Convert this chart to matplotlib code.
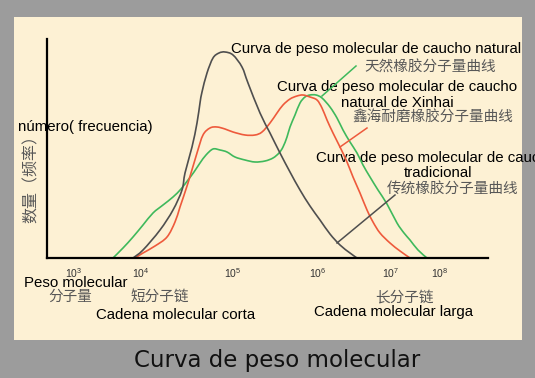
import matplotlib
matplotlib.use('Agg')
import numpy as np
import matplotlib.pyplot as plt
from matplotlib.patches import Rectangle, PathPatch
from matplotlib.path import Path

plt.rcParams['font.family'] = ['Liberation Sans', 'DejaVu Sans']
plt.rcParams['mathtext.fontset'] = 'custom'
plt.rcParams['mathtext.rm'] = 'Liberation Serif'

# curves, x = position along the axis, y = number (frequency)
natural_x = [66, 76, 86, 96, 106, 116, 126, 134, 141, 147, 153, 159, 166, 173, 180, 188, 198, 208,
             218, 226, 232, 236, 240, 243, 248, 253, 258, 263, 269, 275, 283, 290, 296, 303, 310,
             316, 323, 331, 340, 350, 357, 363, 371, 380]
natural_y = [0, 10, 21, 33, 45, 53, 61, 69, 78, 86, 95, 103, 109, 108, 106, 101, 98, 96,
             97, 100, 105, 111, 121, 131, 143, 155, 161, 163, 163, 160, 151, 140, 128, 116, 105,
             93, 81, 68, 54, 35, 25, 18, 8, 0]

xinhai_x = [88, 96, 108, 120, 128, 133, 141, 150, 156, 163, 170, 178, 186, 198, 208, 215, 223,
            230, 236, 243, 250, 256, 263, 270, 275, 280, 286, 293, 300, 306, 313, 320, 326, 333,
            343, 353, 363]
xinhai_y = [0, 5, 12, 21, 36, 51, 75, 105, 123, 130, 131, 129, 126, 123, 123, 126, 135,
            145, 153, 159, 162, 163, 161, 158, 150, 138, 125, 111, 96, 81, 65, 48, 36, 25,
            15, 7, 0]

trad_x = [86, 96, 113, 126, 135, 138, 145, 150, 153, 155, 160, 166, 172, 178, 186, 195, 201,
          213, 223, 233, 243, 253, 263, 273, 283, 293, 303, 310]
trad_y = [0, 8, 28, 48, 68, 85, 111, 135, 155, 166, 185, 200, 205, 206, 203, 191, 175,
          145, 125, 105, 86, 68, 52, 38, 24, 13, 5, 0]

tick_pos = [27, 94, 186, 271, 344, 393]
tick_labels = [r'$\mathregular{10^{3}}$', r'$\mathregular{10^{4}}$', r'$\mathregular{10^{5}}$',
               r'$\mathregular{10^{6}}$', r'$\mathregular{10^{7}}$', r'$\mathregular{10^{8}}$']

# leader lines (from curve to label)
lead_natural = ([275, 309], [162, 192])
lead_xinhai = ([293, 320], [111, 130])
lead_trad = ([290, 348], [15, 63])

c_trad = '#4f4f4f'
c_xinhai = '#ee5a3c'
c_natural = '#3fb95c'
c_cjk = '#575757'
cjk = ['Noto Sans CJK SC', 'DejaVu Sans']


def smooth_path(xs, ys):
    # catmull-rom through the read points, drawn as bezier segments
    p = np.column_stack([xs, ys]).astype(float)
    q = np.vstack([p[0], p, p[-1]])
    verts = [p[0]]
    codes = [Path.MOVETO]
    for i in range(1, len(q) - 2):
        c1 = q[i] + (q[i + 1] - q[i - 1]) / 6
        c2 = q[i + 1] - (q[i + 2] - q[i]) / 6
        verts += [c1, c2, q[i + 1]]
        codes += [Path.CURVE4] * 3
    return Path(verts, codes)


fig = plt.figure(figsize=(5.35, 3.78), dpi=100)
fig.patch.set_facecolor('#9c9c9c')

bg = fig.add_axes([0, 0, 1, 1])
bg.set_xlim(0, 535)
bg.set_ylim(378, 0)
bg.axis('off')
bg.add_patch(Rectangle((14, 17), 508, 323, fc='#fdf1d4', ec='none'))

ax = fig.add_axes([47 / 535, 120 / 378, 441 / 535, 219 / 378])
ax.set_xlim(0, 441)
ax.set_ylim(0, 219)
ax.patch.set_alpha(0)
for s in ['top', 'right']:
    ax.spines[s].set_visible(False)
for s in ['left', 'bottom']:
    ax.spines[s].set_linewidth(1.6)
    ax.spines[s].set_color('black')
ax.set_yticks([])
ax.set_xticks(tick_pos)
ax.set_xticklabels(tick_labels, fontsize=7.5, color='#333333')
ax.tick_params(axis='x', length=0, pad=6)

for xs, ys, col in [(natural_x, natural_y, c_natural),
                    (xinhai_x, xinhai_y, c_xinhai),
                    (trad_x, trad_y, c_trad)]:
    ax.add_patch(PathPatch(smooth_path(xs, ys), fc='none', ec=col, lw=1.2, clip_on=False))
ax.plot(*lead_natural, color=c_natural, lw=1.1)
ax.plot(*lead_xinhai, color=c_xinhai, lw=1.1)
ax.plot(*lead_trad, color=c_trad, lw=1.1)

fs = 10.8
bg.text(521, 53, 'Curva de peso molecular de caucho natural', fontsize=fs, ha='right', va='baseline')
bg.text(364, 68, '天然橡胶分子量曲线', fontsize=10.5, family=cjk, color=c_cjk, va='center')
bg.text(397, 91, 'Curva de peso molecular de caucho', fontsize=fs, ha='center', va='baseline')
bg.text(397, 107, 'natural de Xinhai', fontsize=fs, ha='center', va='baseline')
bg.text(352, 118, '鑫海耐磨橡胶分子量曲线', fontsize=10.5, family=cjk, color=c_cjk, va='center')
bg.text(316, 162, 'Curva de peso molecular de caucho', fontsize=fs, va='baseline')
bg.text(438, 177, 'tradicional', fontsize=fs, ha='center', va='baseline')
bg.text(387, 190, '传统橡胶分子量曲线', fontsize=10.5, family=cjk, color=c_cjk, va='center')

bg.text(18, 131, 'número( frecuencia)', fontsize=fs, va='baseline')
bg.text(31, 175, '数量（频率）', fontsize=11.5, family=cjk, color=c_cjk, rotation=90,
        ha='center', va='center')

bg.text(24, 287, 'Peso molecular', fontsize=fs, va='baseline')
bg.text(48, 297, '分子量', fontsize=10.5, family=cjk, color=c_cjk, va='center')
bg.text(130, 297, '短分子链', fontsize=10.5, family=cjk, color=c_cjk, va='center')
bg.text(96, 319, 'Cadena molecular corta', fontsize=fs, va='baseline')
bg.text(375, 297, '长分子链', fontsize=10.5, family=cjk, color=c_cjk, va='center')
bg.text(314, 316, 'Cadena molecular larga', fontsize=fs, va='baseline')

bg.text(277, 367, 'Curva de peso molecular', fontsize=16.5, family='DejaVu Sans',
        color='#111111', ha='center', va='baseline')

fig.savefig('out.png', dpi=100, facecolor=fig.get_facecolor())
